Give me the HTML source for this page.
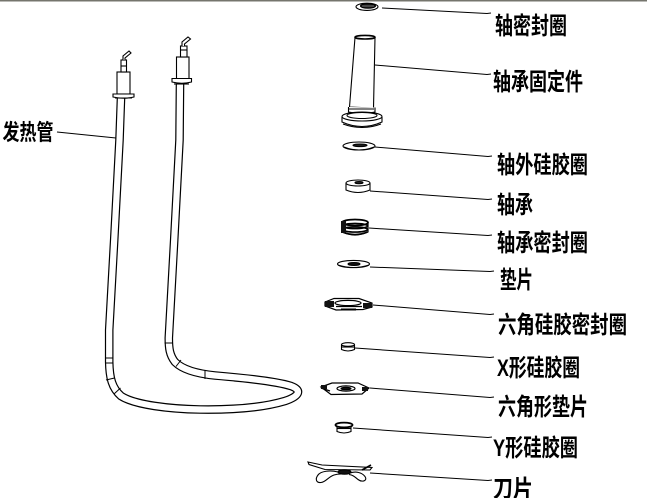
<!DOCTYPE html>
<html><head><meta charset="utf-8"><style>
html,body{margin:0;padding:0;background:#fff;}
svg{display:block;}
text{font-family:"Liberation Sans","Noto Sans CJK SC",sans-serif;font-weight:bold;font-size:24px;fill:#000;}
</style></head><body>
<svg width="647" height="498" viewBox="0 0 647 498" xmlns="http://www.w3.org/2000/svg">
<rect x="0" y="0" width="647" height="498" fill="#fff"/>
<rect x="0" y="0" width="647" height="1.5" fill="#75756d"/>

<!-- heating tube -->
<g fill="none" stroke-linejoin="round">
<path id="tube" d="M121,98 L119.5,140 L114.2,240 L109.2,330 L109.2,362 C109.5,378 112,388 121,396 C135,405 170,409 200,409.5 C235,410 265,407 285,401 C300,396 302,390 291,386 C275,381 245,378 215,375.5 C195,373.5 182,369 175,362 C169.5,355 168.8,348 168.8,338 L174.2,240 L179.5,140 L180,84" stroke="#000" stroke-width="8.6"/>
<path d="M121,98 L119.5,140 L114.2,240 L109.2,330 L109.2,362 C109.5,378 112,388 121,396 C135,405 170,409 200,409.5 C235,410 265,407 285,401 C300,396 302,390 291,386 C275,381 245,378 215,375.5 C195,373.5 182,369 175,362 C169.5,355 168.8,348 168.8,338 L174.2,240 L179.5,140 L180,84" stroke="#fff" stroke-width="6.2"/>
</g>
<g stroke="#000" stroke-width="1" fill="none">
<line x1="105" y1="358" x2="113.5" y2="358"/>
<line x1="105" y1="363" x2="113.5" y2="363"/>
<line x1="106" y1="380" x2="114.5" y2="378"/>
<line x1="114" y1="394" x2="120.5" y2="388"/>
<line x1="164.5" y1="343" x2="173" y2="343"/>
<line x1="176" y1="366.5" x2="181" y2="360"/>
<line x1="205" y1="370.5" x2="205" y2="379"/>
</g>

<!-- left head -->
<g stroke="#000" stroke-width="1.1" fill="#fff">
<rect x="117" y="72" width="13" height="22"/>
<path d="M113,94 L134,94 L134,97 Q123.5,99.5 113,97 Z"/>
<line x1="115" y1="98" x2="132" y2="98"/>
<rect x="121" y="60" width="5.5" height="12"/>
<path d="M123,60 L123,56 L129,51 L131,53 L125,58 L125,60" />
<line x1="120.5" y1="66" x2="126.5" y2="66"/>
</g>
<!-- right head -->
<g stroke="#000" stroke-width="1.1" fill="#fff">
<rect x="176.5" y="57" width="12.5" height="22"/>
<path d="M172,78.5 L191.5,78.5 L191.5,82 Q182,84.5 172,82 Z"/>
<line x1="174" y1="84" x2="189" y2="84"/>
<rect x="180.5" y="46" width="6.5" height="11"/>
<path d="M182,46 L182,42 L188,37 L190.5,39 L184.5,44 L184.5,46"/>
<line x1="180.5" y1="50" x2="187" y2="50"/>
</g>

<!-- 发热管 leader -->
<line x1="57" y1="132" x2="116" y2="138" stroke="#000" stroke-width="1"/>

<!-- leaders right -->
<g stroke="#000" stroke-width="1" fill="none">
<polyline points="382,8 487,13.5 491,13"/>
<polyline points="375,65 487,74.5 491,74"/>
<polyline points="375,147 488,156.5 492,156"/>
<polyline points="370,191 488,199.5 492,199"/>
<polyline points="369,228 488,235.5 492,235"/>
<polyline points="370,267 490,271.5 494,271"/>
<polyline points="373,305 490,314.5 494,314"/>
<polyline points="355,348 490,357.5 494,357"/>
<polyline points="370,388 490,397.5 494,397"/>
<polyline points="353,428 488,437.5 492,437"/>
<polyline points="370,473 488,480.5 492,480"/>
</g>

<!-- part 1 shaft seal -->
<g stroke="#000" stroke-width="1.1" fill="#fff">
<ellipse cx="367" cy="6.8" rx="11" ry="3.6"/>
<ellipse cx="368" cy="6" rx="7.5" ry="2.2" fill="#222"/>
<line x1="362" y1="6" x2="374" y2="6" stroke="#888" stroke-width="0.7"/>
</g>

<!-- part 2 bearing holder -->
<g stroke="#000" stroke-width="1.1" fill="#fff">
<path d="M355,37.5 L349.5,107 L373.5,108 L375,37.5 Z"/>
<ellipse cx="365" cy="37.2" rx="10" ry="1.8" stroke-width="1.6"/>
<path d="M348.5,107 L348.5,112 Q362,115 375,112 L375,107.5"/>
<line x1="349" y1="109" x2="374" y2="109"/>
<path d="M342,117 L342,122 Q362,131 382,122 L382,117"/>
<ellipse cx="362" cy="116.5" rx="20" ry="4.5"/>
<ellipse cx="362" cy="115.5" rx="15" ry="3"/>
<path d="M343,124 Q362,131 381,124" fill="none"/>
</g>

<!-- part 3 outer silicone ring -->
<g stroke="#000" stroke-width="1.1" fill="#fff">
<ellipse cx="359" cy="146" rx="16" ry="4"/>
<path d="M344,147 Q359,153 374,147" fill="none"/>
<ellipse cx="360" cy="145.3" rx="7" ry="1.3" fill="#222"/>
</g>

<!-- part 4 bearing -->
<g stroke="#000" stroke-width="1.1" fill="#fff">
<path d="M346,183 L346,190 Q358,195 370,190 L370,183"/>
<ellipse cx="358" cy="183" rx="12" ry="3"/>
<ellipse cx="359" cy="182.6" rx="4" ry="1.1" fill="#222"/>
</g>

<!-- part 5 bearing seal (coil) -->
<g stroke="#000" fill="none">
<path d="M342,222 L342,232 Q355,238 368,232 L368,222" stroke-width="1.2" fill="#fff"/>
<ellipse cx="355" cy="222.5" rx="13" ry="3" stroke-width="1.8"/>
<ellipse cx="355" cy="226" rx="12.5" ry="2.6" stroke-width="1.6"/>
<ellipse cx="355" cy="229.5" rx="12.5" ry="2.6" stroke-width="1.6"/>
<path d="M342.5,232 Q355,237 367.5,232" stroke-width="1.6"/>
<rect x="341" y="221" width="5" height="12" fill="#111" stroke="none"/>
</g>

<!-- part 6 washer -->
<g stroke="#000" stroke-width="1.1" fill="#fff">
<ellipse cx="353.5" cy="264" rx="16" ry="3.6"/>
<path d="M338,265 Q353.5,270 369,265" fill="none"/>
<ellipse cx="354" cy="264" rx="6" ry="1.4" fill="#111"/>
</g>

<!-- part 7 hex silicone seal -->
<g stroke="#000" stroke-width="1.2" fill="#fff">
<path d="M325,302 L334,298.5 L359,298.5 L372,303 L372,307 L363,309.5 L336,310 L325,306 Z"/>
<ellipse cx="348" cy="303" rx="13" ry="2.6"/>
<line x1="336" y1="306.5" x2="362" y2="306.5"/>
<rect x="325" y="301" width="9" height="6" fill="#111" stroke="none"/>
<rect x="363" y="303" width="9" height="5" fill="#111" stroke="none"/>
<line x1="341" y1="309.5" x2="356" y2="309.5" stroke-width="2"/>
</g>

<!-- part 8 X ring -->
<g stroke="#000" stroke-width="1.1" fill="#fff">
<path d="M341.5,344.5 L341.5,349.5 Q348,352.5 354.5,349.5 L354.5,344.5"/>
<ellipse cx="348" cy="344.5" rx="6.5" ry="1.8"/>
<line x1="342" y1="347" x2="354" y2="347"/>
</g>

<!-- part 9 hex washer -->
<g stroke="#000" stroke-width="1.2" fill="#fff">
<path d="M321,387 L332,383 L358,383 L369,388 L362,394 L331,394.5 Z"/>
<path d="M321,388 L330,391" fill="none"/>
<ellipse cx="346" cy="388.5" rx="9" ry="2.6"/>
<ellipse cx="346" cy="388.5" rx="5" ry="1.2" fill="#111"/>
<rect x="321" y="385" width="6" height="4" fill="#111" stroke="none"/>
<rect x="362" y="387" width="6" height="4" fill="#111" stroke="none"/>
</g>

<!-- part 10 Y ring -->
<g stroke="#000" stroke-width="1.1" fill="#fff">
<path d="M337,425 L337,431.5 Q344,434.5 351,431.5 L351,425"/>
<ellipse cx="344" cy="425" rx="8.5" ry="2.4" stroke-width="1.8"/>
<line x1="337" y1="428.5" x2="351" y2="428.5"/>
</g>

<!-- part 11 blade -->
<g stroke="#000" stroke-width="1.1" fill="#fff">
<path d="M308,462 L322,465 L372,467.5 L370,470 L325,469.5 L309,464.5 Z"/>
<path d="M338,472 C330,470 321,471 318,475 C315,479 316,483 321,482.5 C326,482 328,477 334,475 C337,474 339,474 341,474"/>
<path d="M350,473 C356,471 362,472.5 365,476.5 C368,481 362,482.5 358,479.5 C355,477 353,475 349,474.5"/>
<ellipse cx="344.5" cy="472" rx="6.5" ry="2.2" fill="#111"/>
<line x1="362" y1="470" x2="371" y2="465" stroke-width="1.6"/>
</g>

<!-- labels -->
<text x="2.5" y="140" textLength="51" lengthAdjust="spacingAndGlyphs" style="font-size:22px">发热管</text>
<text x="495" y="34" textLength="72" lengthAdjust="spacingAndGlyphs">轴密封圈</text>
<text x="493" y="90" textLength="90" lengthAdjust="spacingAndGlyphs">轴承固定件</text>
<text x="497" y="173" textLength="91" lengthAdjust="spacingAndGlyphs">轴外硅胶圈</text>
<text x="497" y="213" textLength="36" lengthAdjust="spacingAndGlyphs">轴承</text>
<text x="497" y="251" textLength="91" lengthAdjust="spacingAndGlyphs">轴承密封圈</text>
<text x="500" y="288" textLength="33" lengthAdjust="spacingAndGlyphs">垫片</text>
<text x="498" y="333" textLength="129" lengthAdjust="spacingAndGlyphs">六角硅胶密封圈</text>
<text x="497" y="376" textLength="83" lengthAdjust="spacingAndGlyphs">X形硅胶圈</text>
<text x="498" y="415" textLength="90" lengthAdjust="spacingAndGlyphs">六角形垫片</text>
<text x="493" y="456" textLength="85" lengthAdjust="spacingAndGlyphs">Y形硅胶圈</text>
<text x="493" y="497" textLength="40" lengthAdjust="spacingAndGlyphs">刀片</text>
</svg>
</body></html>
